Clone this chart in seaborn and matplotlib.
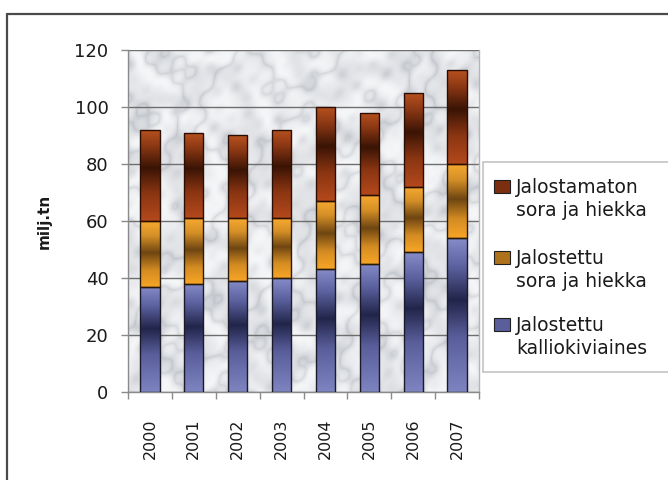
import numpy as np
import pandas as pd
import matplotlib
matplotlib.use("Agg")
import matplotlib.pyplot as plt
from matplotlib.colors import LinearSegmentedColormap
from matplotlib.patches import Rectangle
from matplotlib.lines import Line2D
import seaborn as sns

# Annual production, million tonnes
years = ["2000", "2001", "2002", "2003", "2004", "2005", "2006", "2007"]
kallio = [37, 38, 39, 40, 43, 45, 49, 54]          # Jalostettu kalliokiviaines
sora_jalostettu = [23, 23, 22, 21, 24, 24, 23, 26]  # Jalostettu sora ja hiekka
sora_jalostamaton = [32, 30, 29, 31, 33, 29, 33, 33]  # Jalostamaton sora ja hiekka

series_names = ["Jalostettu\nkalliokiviaines",
                "Jalostettu\nsora ja hiekka",
                "Jalostamaton\nsora ja hiekka"]
yticks = [0, 20, 40, 60, 80, 100, 120]

df = pd.DataFrame({"vuosi": years, "kallio": kallio,
                   "sora_j": sora_jalostettu, "sora_m": sora_jalostamaton})

sns.set_theme(style="white")
plt.rcParams["font.family"] = ["DejaVu Sans"]

W, H = 668, 480
fig = plt.figure(figsize=(W / 100, H / 100), dpi=100)
fig.patch.set_facecolor("white")
ax = fig.add_axes([128 / W, 1 - 392 / H, 351 / W, 342 / H])
ax.set_facecolor("none")

# soft marble-like plot background built from layered sines
gy, gx = np.mgrid[0:340, 0:350].astype(float)
t = (gx * 0.021 + gy * 0.017
     + 1.3 * np.sin(gx * 0.023 - gy * 0.019)
     + 0.7 * np.sin(gx * 0.061 + gy * 0.043)
     + 0.35 * np.sin(gx * 0.13 - gy * 0.17)
     + 0.2 * np.sin(gx * 0.29 + gy * 0.23))
u = (gx * 0.011 - gy * 0.027
     + 1.1 * np.sin(gx * 0.037 + gy * 0.029)
     + 0.5 * np.sin(gx * 0.083 - gy * 0.071))
v1 = np.abs(np.sin(t * 1.7)) ** 0.5
v2 = 0.5 + 0.5 * np.sin(u * 2.3)
v = np.clip(0.65 * v1 + 0.35 * v2, 0, 1)
light = np.array([0.962, 0.965, 0.972])
vein = np.array([0.74, 0.755, 0.78])
tex = light * v[..., None] + vein * (1 - v[..., None])
ax.imshow(tex, extent=[0, 1, 0, 1], transform=ax.transAxes,
          aspect="auto", zorder=0, interpolation="bilinear")

# stacked bars
bottom2 = df["kallio"]
bottom3 = df["kallio"] + df["sora_j"]
sns.barplot(data=df, x="vuosi", y="kallio", color="#5a5f9c", width=0.44,
            ax=ax, edgecolor="#1a1a2a", linewidth=1.0, zorder=3)
sns.barplot(data=df, x="vuosi", y="sora_j", bottom=bottom2, color="#d08a20",
            width=0.44, ax=ax, edgecolor="#2a1a0a", linewidth=1.0, zorder=3)
sns.barplot(data=df, x="vuosi", y="sora_m", bottom=bottom3, color="#8a3512",
            width=0.44, ax=ax, edgecolor="#2a0e04", linewidth=1.0, zorder=3)

cmaps = [
    LinearSegmentedColormap.from_list("kallio", [
        (0.0, "#7d84c0"), (0.35, "#5a5f9c"), (0.6, "#22254a"),
        (0.82, "#5c62a0"), (1.0, "#868cc8")]),
    LinearSegmentedColormap.from_list("soraj", [
        (0.0, "#f7a526"), (0.25, "#d48c22"), (0.52, "#6e4512"),
        (0.78, "#d48f26"), (1.0, "#f8aa30")]),
    LinearSegmentedColormap.from_list("soram", [
        (0.0, "#b4491c"), (0.3, "#8a3512"), (0.58, "#3a1405"),
        (0.82, "#8c3814"), (1.0, "#b8521f")]),
]

grad = np.linspace(0, 1, 128).reshape(-1, 1)
for cont, cmap in zip(ax.containers, cmaps):
    for p in cont.patches:
        x0, y0 = p.get_x(), p.get_y()
        w, h = p.get_width(), p.get_height()
        im = ax.imshow(grad, extent=[x0, x0 + w, y0, y0 + h], origin="lower",
                       aspect="auto", cmap=cmap, zorder=2.5,
                       interpolation="bilinear")
        im.set_clip_path(p)
        p.set_facecolor("none")

ax.set_xlim(-0.5, len(years) - 0.5)
ax.set_ylim(0, 120)
ax.set_yticks(yticks)
ax.set_yticklabels([str(v) for v in yticks])
ax.yaxis.grid(True, color="#6e6e6e", linewidth=1.0, zorder=1)
ax.set_axisbelow(True)

ax.spines["top"].set_visible(False)
ax.spines["left"].set_color("#8a8a8a")
ax.spines["bottom"].set_color("#8a8a8a")
ax.spines["right"].set_color("#b5b5b5")
for s in ax.spines.values():
    s.set_linewidth(1.0)

ax.tick_params(axis="y", direction="out", length=5, width=1, color="#8a8a8a",
               pad=9, labelsize=13, labelcolor="#1a1a1a", left=True)
ax.set_xticks(range(len(years)))
ax.set_xticklabels(years, rotation=90)
ax.tick_params(axis="x", length=0, pad=19, labelsize=11.5, labelcolor="#1a1a1a")
ax.set_xticks(np.arange(-0.5, len(years), 1.0), minor=True)
ax.tick_params(axis="x", which="minor", direction="out", length=5, width=1,
               color="#8a8a8a", bottom=True)
for lab in ax.get_xticklabels():
    lab.set_verticalalignment("top")

ax.set_xlabel("")
ax.set_ylabel("milj.tn", fontsize=11, fontweight="bold", color="#1a1a1a",
              labelpad=16)

# legend box
fig.patches.append(Rectangle((483 / W, 1 - 372 / H), 300 / W, 210 / H,
                             transform=fig.transFigure, facecolor="white",
                             edgecolor="#c4c4c4", linewidth=1.2, zorder=1))
legend_rows = [
    (series_names[2], cmaps[2], 193, 216),
    (series_names[1], cmaps[1], 264, 287),
    (series_names[0], cmaps[0], 331, 354),
]
for name, cmap, b1, b2 in legend_rows:
    line1, line2 = name.split("\n")
    fig.patches.append(Rectangle((494 / W, 1 - (b1 - 0.5) / H), 16 / W, 13 / H,
                                 transform=fig.transFigure,
                                 facecolor=cmap(0.35), edgecolor="#202020",
                                 linewidth=0.8, zorder=2))
    fig.text(516 / W, 1 - b1 / H, line1, fontsize=13.5, color="#1a1a1a",
             va="baseline", ha="left", zorder=3)
    fig.text(516 / W, 1 - b2 / H, line2, fontsize=13.5, color="#1a1a1a",
             va="baseline", ha="left", zorder=3)

# outer frame
fig.lines.append(Line2D([7 / W, 7 / W], [0, 1 - 14 / H], transform=fig.transFigure,
                        color="#4a4a4a", linewidth=1.6))
fig.lines.append(Line2D([7 / W, 1], [1 - 14 / H, 1 - 14 / H], transform=fig.transFigure,
                        color="#4a4a4a", linewidth=1.6))

fig.savefig("out.png", dpi=100, facecolor="white")
